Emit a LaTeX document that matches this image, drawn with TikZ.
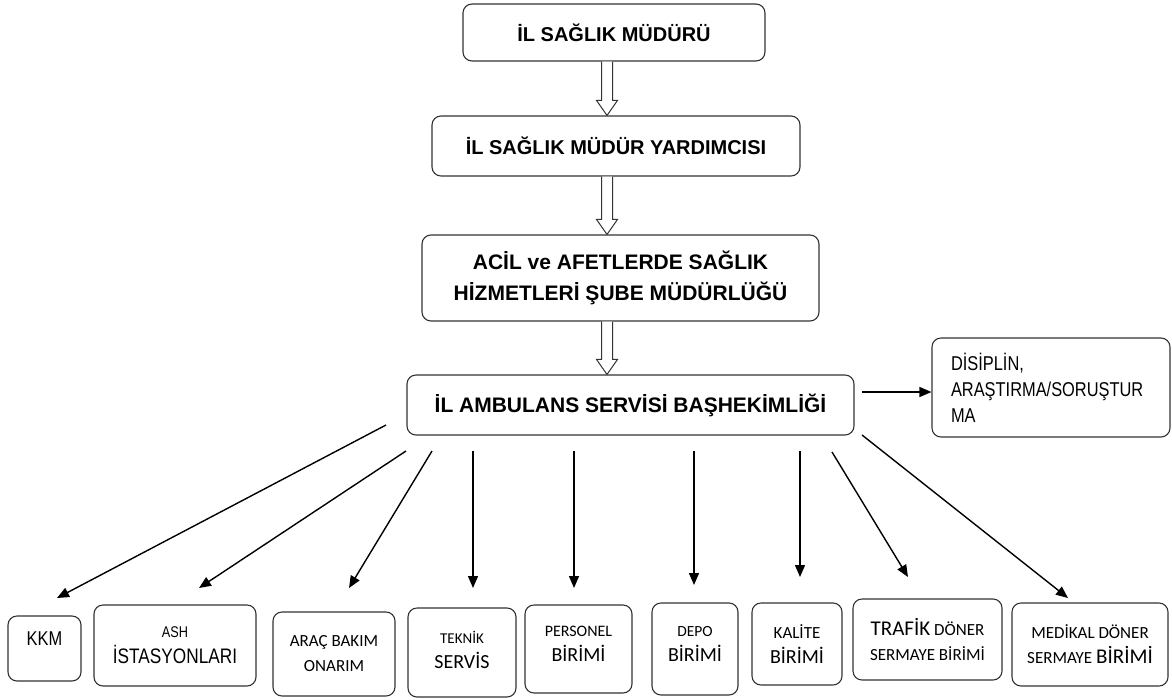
\documentclass[tikz,border=0pt]{standalone}
\usepackage{fontspec}
\setmainfont{Liberation Sans}
\newfontfamily\narrowfont[FakeStretch=0.82]{Liberation Sans}
\newfontfamily\calfont{Carlito}
\usetikzlibrary{arrows.meta,calc}

\newcommand{\smtxt}{\fontsize{17}{25}\selectfont}
\newcommand{\bgtxt}{\fontsize{20}{25}\selectfont}

\tikzset{
  office/.style = {draw=black!80, line width=1.1pt, rounded corners=9pt, align=center, inner sep=0pt},
  head/.style   = {office, font=\bfseries\fontsize{20}{31}\selectfont},
  unit/.style   = {office, font=\calfont\smtxt},
  link/.style   = {line width=1.4pt, -{Triangle[length=12pt,width=10pt]}},
  hollow/.style = {draw=black!80, line width=1pt, fill=white,
    to path={let \p1=(\tikztostart), \p2=(\tikztotarget) in
      (\x1-5.5pt,\y1) -- (\x1-5.5pt,\y2+15pt) -- (\x1-10.5pt,\y2+15pt) -- (\x1,\y2)
      -- (\x1+10.5pt,\y2+15pt) -- (\x1+5.5pt,\y2+15pt) -- (\x1+5.5pt,\y1)}}
}

\begin{document}
\begin{tikzpicture}[x=1pt, y=-1pt]
  \useasboundingbox (0,0) rectangle (1172,699);

  % upper chain
  \node[head, minimum width=302pt, minimum height=57pt] (mudur) at (614,32.5) {İL SAĞLIK MÜDÜRÜ};
  \node[head, minimum width=368pt, minimum height=60pt] (yardimci) at (616,146) {İL SAĞLIK MÜDÜR YARDIMCISI};
  \node[head, minimum width=397pt, minimum height=86pt, font=\bfseries\fontsize{21}{31}\selectfont] (sube) at (620.5,278)
    {ACİL ve AFETLERDE SAĞLIK\\HİZMETLERİ ŞUBE MÜDÜRLÜĞÜ};
  \node[head, minimum width=447pt, minimum height=60pt, font=\bfseries\fontsize{21}{31}\selectfont] (bashekim) at (630.5,405)
    {İL AMBULANS SERVİSİ BAŞHEKİMLİĞİ};
  \node[office, align=left, text width=200pt, inner xsep=19pt, minimum height=99pt,
        font=\narrowfont\fontsize{20}{26}\selectfont] (disiplin) at (1051,387.5)
    {DİSİPLİN,\\ARAŞTIRMA/SORUŞTUR\\MA};

  % units
  \node[unit, minimum width=73pt, minimum height=65pt, font=\narrowfont\fontsize{20}{25}\selectfont, text depth=19pt]
    (kkm) at (44.5,648.5) {KKM};
  \node[unit, minimum width=162pt, minimum height=81pt, font=\narrowfont\fontsize{15.5}{26}\selectfont]
    (ash) at (175,645.5) {ASH\\{\fontsize{21}{26}\selectfont İSTASYONLARI}};
  \node[unit, minimum width=122pt, minimum height=84pt] (arac) at (334,654) {ARAÇ BAKIM\\ONARIM};
  \node[unit, minimum width=108pt, minimum height=89pt, text depth=6pt] (teknik) at (462,652.5)
    {{\fontsize{15}{25}\selectfont TEKNİK}\\{\bgtxt SERVİS}};
  \node[unit, minimum width=107pt, minimum height=88pt, text depth=10pt] (personel) at (578.5,649)
    {{\fontsize{16}{25}\selectfont PERSONEL}\\{\bgtxt BİRİMİ}};
  \node[unit, minimum width=86pt, minimum height=92pt, text depth=10pt] (depo) at (695,649)
    {{\fontsize{15.5}{25}\selectfont DEPO}\\{\bgtxt BİRİMİ}};
  \node[unit, minimum width=90pt, minimum height=82pt] (kalite) at (797,644) {KALİTE\\{\bgtxt BİRİMİ}};
  \node[unit, minimum width=149pt, minimum height=81pt] (trafik) at (927.5,639.5)
    {{\fontsize{21}{25}\selectfont TRAFİK} DÖNER\\SERMAYE BİRİMİ};
  \node[unit, minimum width=156pt, minimum height=83pt] (medikal) at (1090,644.5)
    {MEDİKAL DÖNER\\SERMAYE {\fontsize{21}{25}\selectfont BİRİMİ}};

  % hollow arrows
  \coordinate (axis) at (607,0);
  \draw[hollow] (mudur.south -| axis) to (yardimci.north -| axis);
  \draw[hollow] (yardimci.south -| axis) to (sube.north -| axis);
  \draw[hollow] (sube.south -| axis) to (bashekim.north -| axis);

  \coordinate (d0) at (862,392);
  \draw[link] (d0) -- (d0 -| disiplin.west);

  % fan of arrows
  \coordinate (s1) at (386,425);  \coordinate (t1) at (57,598);
  \coordinate (s2) at (406,451);  \coordinate (t2) at (199,588);
  \coordinate (s3) at (432,451);  \coordinate (t3) at (349,588);
  \coordinate (s4) at (473,451);  \coordinate (t4) at (473,588);
  \coordinate (s5) at (574,451);  \coordinate (t5) at (574,588);
  \coordinate (s6) at (694,451);  \coordinate (t6) at (694,585);
  \coordinate (s7) at (800,451);  \coordinate (t7) at (800,577);
  \coordinate (s8) at (832,452);  \coordinate (t8) at (908,577);
  \coordinate (s9) at (862,435);  \coordinate (t9) at (1068,598);

  \draw[link] (s1) -- (t1);
  \draw[link] (s2) -- (t2);
  \draw[link] (s3) -- (t3);
  \draw[link] (s4) -- (t4);
  \draw[link] (s5) -- (t5);
  \draw[link] (s6) -- (t6);
  \draw[link] (s7) -- (t7);
  \draw[link] (s8) -- (t8);
  \draw[link] (s9) -- (t9);
\end{tikzpicture}
\end{document}
